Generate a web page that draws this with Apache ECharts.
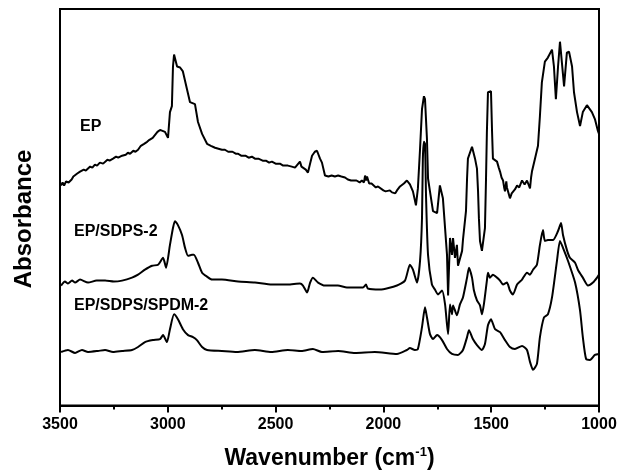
<!DOCTYPE html>
<html>
<head>
<meta charset="utf-8">
<script src="https://cdn.jsdelivr.net/npm/echarts@6/dist/echarts.min.js"></script>
<style>
  html, body { margin: 0; padding: 0; background: #fff; }
  #chart { width: 630px; height: 475px; }
</style>
</head>
<body>
<div id="chart"></div>
<script>
// FTIR spectra: wavenumber (cm-1) and absorbance (stacked, arbitrary units)
const xTicks = [3500, 3000, 2500, 2000, 1500, 1000];
const seriesNames = ['EP', 'EP/SDPS-2', 'EP/SDPS/SPDM-2'];

// EP (noisy trace), written region by region
const epWn = [
  3495, 3488, 3481, 3472, 3460, 3446, 3438, 3430, 3420, 3407, 3398, 3390, 3380, 3370, 3360, 3350, 3338, 3328, 3315, 3300,
  3291, 3280, 3270, 3254, 3240, 3230, 3212, 3195, 3185, 3175, 3160, 3150, 3138, 3125, 3110, 3096, 3085, 3070, 3059, 3048,
  3036, 3013, 2999, 2990, 2981, 2976, 2971, 2967, 2957, 2943, 2930, 2911, 2897, 2874, 2860, 2841, 2818, 2800, 2781,
  2765, 2749, 2735, 2720, 2700, 2685, 2674, 2660, 2640, 2625, 2610, 2596, 2580, 2560, 2545, 2530, 2517, 2500, 2480, 2465,
  2443, 2425, 2410, 2401, 2387, 2380, 2373, 2360, 2350, 2340, 2331, 2318, 2308, 2294, 2285, 2271, 2255, 2240, 2225, 2210,
  2195, 2178, 2165, 2150, 2141, 2125, 2110, 2100, 2090, 2085, 2080, 2076, 2066, 2055, 2048, 2035, 2025, 2016, 2000, 1990,
  1983, 1970, 1960, 1956, 1945, 1937, 1923, 1905, 1891, 1877, 1863, 1849, 1840, 1830, 1821, 1812, 1807, 1798, 1793,
  1784, 1770, 1751, 1738, 1724, 1714, 1705, 1700, 1691, 1682, 1677, 1668, 1659, 1654, 1635, 1631, 1617, 1612, 1608,
  1589, 1575, 1566, 1561, 1557, 1552, 1543, 1534, 1529, 1524, 1520, 1515, 1501, 1496, 1492, 1485, 1473, 1465, 1459,
  1452, 1445, 1440, 1436, 1430, 1427, 1420, 1413, 1405, 1399, 1390, 1380, 1370, 1357, 1345, 1334, 1325, 1320, 1315,
  1311, 1297, 1283, 1274, 1265, 1251, 1237, 1218, 1209, 1200, 1190, 1181, 1172, 1162, 1149, 1139, 1125, 1116, 1102,
  1088, 1075, 1056, 1033, 1019, 1005, 1000
];
const epAbs = [
  2.22, 2.25, 2.22, 2.26, 2.25, 2.28, 2.31, 2.30, 2.34, 2.36, 2.35, 2.38, 2.37, 2.39, 2.41, 2.40, 2.43, 2.42, 2.45, 2.44,
  2.46, 2.48, 2.47, 2.49, 2.51, 2.50, 2.52, 2.53, 2.55, 2.54, 2.57, 2.56, 2.58, 2.62, 2.64, 2.66, 2.68, 2.70, 2.73, 2.76,
  2.78, 2.76, 2.70, 2.96, 3.02, 3.42, 3.54, 3.54, 3.42, 3.41, 3.37, 3.19, 3.06, 3.04, 2.86, 2.74, 2.64, 2.62, 2.60,
  2.59, 2.58, 2.58, 2.56, 2.56, 2.54, 2.54, 2.52, 2.52, 2.50, 2.51, 2.49, 2.49, 2.47, 2.47, 2.45, 2.46, 2.44, 2.44, 2.42,
  2.42, 2.41, 2.40, 2.41, 2.46, 2.41, 2.40, 2.38, 2.35, 2.44, 2.52, 2.56, 2.57, 2.49, 2.45, 2.32, 2.31, 2.32, 2.31, 2.32,
  2.31, 2.30, 2.28, 2.27, 2.26, 2.27, 2.25, 2.27, 2.25, 2.32, 2.27, 2.31, 2.24, 2.24, 2.22, 2.20, 2.21, 2.19, 2.17, 2.16,
  2.14, 2.17, 2.15, 2.16, 2.14, 2.17, 2.21, 2.24, 2.27, 2.23, 2.16, 2.02, 2.19, 2.59, 2.99, 3.12, 3.09, 2.69, 2.29,
  2.16, 1.96, 1.94, 2.22, 2.09, 1.79, 1.52, 1.11, 1.69, 1.52, 1.69, 1.49, 1.62, 1.41, 1.56, 1.67, 1.96, 2.29, 2.49,
  2.61, 2.49, 2.39, 2.16, 1.89, 1.66, 1.56, 1.57, 1.79, 2.29, 2.76, 3.16, 3.17, 2.76, 2.49, 2.48, 2.46, 2.40, 2.36,
  2.30, 2.27, 2.20, 2.16, 2.26, 2.20, 2.18, 2.09, 2.14, 2.12, 2.18, 2.22, 2.20, 2.27, 2.23, 2.27, 2.25, 2.19, 2.30,
  2.36, 2.49, 2.62, 2.92, 3.26, 3.47, 3.51, 3.59, 3.42, 3.09, 3.42, 3.67, 3.67, 3.22, 3.56, 3.57, 3.42, 3.16, 2.96,
  2.82, 2.96, 3.03, 2.96, 2.89, 2.77, 2.74
];

const sdpsWn = [3495, 3477, 3463, 3444, 3430, 3407, 3370, 3330, 3291, 3250, 3212, 3166, 3138, 3106, 3073, 3045, 3022, 3008, 2990, 2976, 2967, 2953, 2934, 2920, 2906, 2888, 2879, 2860, 2841, 2818, 2795, 2749, 2674, 2596, 2517, 2443, 2387, 2373, 2354, 2340, 2327, 2303, 2271, 2211, 2169, 2095, 2081, 2072, 2016, 1937, 1900, 1877, 1863, 1844, 1830, 1821, 1817, 1812, 1807, 1802, 1793, 1775, 1761, 1747, 1728, 1714, 1700, 1691, 1682, 1677, 1659, 1645, 1631, 1612, 1603, 1589, 1580, 1566, 1552, 1543, 1534, 1520, 1515, 1506, 1492, 1473, 1459, 1445, 1427, 1413, 1399, 1380, 1357, 1334, 1320, 1306, 1288, 1274, 1260, 1251, 1237, 1213, 1190, 1176, 1167, 1149, 1135, 1111, 1098, 1075, 1051, 1028, 1009, 1000];
const sdpsAbs = [1.21, 1.25, 1.23, 1.26, 1.24, 1.27, 1.24, 1.26, 1.26, 1.25, 1.26, 1.29, 1.32, 1.37, 1.41, 1.42, 1.49, 1.39, 1.62, 1.79, 1.86, 1.82, 1.72, 1.59, 1.51, 1.52, 1.52, 1.44, 1.34, 1.30, 1.27, 1.27, 1.25, 1.24, 1.22, 1.22, 1.23, 1.21, 1.14, 1.24, 1.29, 1.24, 1.21, 1.21, 1.19, 1.19, 1.22, 1.18, 1.17, 1.21, 1.26, 1.42, 1.37, 1.24, 1.46, 1.89, 2.49, 2.66, 2.64, 2.09, 1.52, 1.22, 1.17, 1.12, 1.16, 1.02, 0.72, 1.02, 0.92, 1.01, 0.91, 1.02, 1.09, 1.29, 1.39, 1.29, 1.16, 1.06, 1.01, 0.92, 1.02, 1.26, 1.34, 1.29, 1.32, 1.29, 1.26, 1.22, 1.24, 1.16, 1.12, 1.22, 1.27, 1.34, 1.32, 1.37, 1.42, 1.62, 1.77, 1.66, 1.67, 1.67, 1.76, 1.84, 1.72, 1.57, 1.49, 1.44, 1.37, 1.29, 1.21, 1.24, 1.29, 1.32];

const spdmWn = [3495, 3463, 3430, 3398, 3370, 3324, 3291, 3254, 3212, 3166, 3138, 3106, 3069, 3036, 3022, 3004, 2990, 2971, 2953, 2930, 2906, 2883, 2865, 2841, 2818, 2749, 2680, 2596, 2520, 2443, 2380, 2327, 2285, 2210, 2132, 2040, 1937, 1891, 1877, 1854, 1840, 1821, 1807, 1798, 1784, 1770, 1751, 1728, 1705, 1682, 1654, 1631, 1612, 1603, 1585, 1566, 1543, 1529, 1515, 1501, 1482, 1459, 1436, 1413, 1390, 1357, 1334, 1320, 1306, 1288, 1274, 1255, 1237, 1218, 1195, 1181, 1167, 1144, 1111, 1088, 1075, 1060, 1042, 1019, 1000];
const spdmAbs = [0.54, 0.56, 0.53, 0.56, 0.54, 0.55, 0.56, 0.54, 0.55, 0.56, 0.59, 0.64, 0.66, 0.67, 0.71, 0.64, 0.77, 0.92, 0.87, 0.77, 0.71, 0.69, 0.66, 0.59, 0.56, 0.55, 0.54, 0.56, 0.54, 0.56, 0.55, 0.57, 0.54, 0.55, 0.53, 0.54, 0.52, 0.56, 0.58, 0.56, 0.57, 0.79, 0.99, 0.89, 0.72, 0.67, 0.71, 0.66, 0.57, 0.52, 0.51, 0.56, 0.69, 0.76, 0.67, 0.61, 0.56, 0.62, 0.81, 0.87, 0.77, 0.74, 0.66, 0.59, 0.57, 0.60, 0.56, 0.44, 0.36, 0.42, 0.69, 0.89, 0.92, 1.09, 1.46, 1.66, 1.59, 1.46, 1.24, 0.96, 0.69, 0.47, 0.46, 0.51, 0.52];

const pairs = (xs, ys) => xs.map((x, i) => [x, ys[i]]);
const spectra = [pairs(epWn, epAbs), pairs(sdpsWn, sdpsAbs), pairs(spdmWn, spdmAbs)];

const FONT = 'Liberation Sans, Arial, Helvetica, sans-serif';
const chart = echarts.init(document.getElementById('chart'), null, { renderer: 'canvas' });

chart.setOption({
  animation: false,
  backgroundColor: '#fff',
  grid: {
    left: 60, right: 31, top: 9, bottom: 66,
    show: true, borderColor: '#000', borderWidth: 2, backgroundColor: 'transparent'
  },
  xAxis: {
    type: 'value',
    inverse: true,
    min: xTicks[xTicks.length - 1],
    max: xTicks[0],
    interval: 500,
    axisLine: { show: true, lineStyle: { color: '#000', width: 2 } },
    axisTick: { show: true, inside: false, length: 7, lineStyle: { color: '#000', width: 2 } },
    minorTick: { show: true, splitNumber: 2, length: 4, lineStyle: { color: '#000', width: 2 } },
    splitLine: { show: false },
    axisLabel: {
      color: '#000', fontFamily: FONT, fontWeight: 'bold', fontSize: 16, margin: 11,
      formatter: v => String(v)
    },
    name: '{a|Wavenumber (cm}{s|-1}{a|)}',
    nameLocation: 'middle',
    nameGap: 40,
    nameTextStyle: {
      rich: {
        a: { fontFamily: FONT, fontWeight: 'bold', fontSize: 23, color: '#000', lineHeight: 26 },
        s: { fontFamily: FONT, fontWeight: 'bold', fontSize: 13, color: '#000', lineHeight: 14, verticalAlign: 'top' }
      }
    }
  },
  yAxis: {
    type: 'value',
    min: 0,
    max: 4,
    axisLine: { show: true, lineStyle: { color: '#000', width: 2 } },
    axisTick: { show: false },
    axisLabel: { show: false },
    splitLine: { show: false }
  },
  graphic: [
    {
      type: 'text', x: 24, y: 219, rotation: Math.PI / 2,
      style: { text: 'Absorbance', font: 'bold 24px ' + FONT, fill: '#000', align: 'center', verticalAlign: 'middle' }
    },
    {
      type: 'text', x: 80, y: 127,
      style: { text: seriesNames[0], font: 'bold 16px ' + FONT, fill: '#000', align: 'left', verticalAlign: 'middle' }
    },
    {
      type: 'text', x: 74, y: 232,
      style: { text: seriesNames[1], font: 'bold 16px ' + FONT, fill: '#000', align: 'left', verticalAlign: 'middle' }
    },
    {
      type: 'text', x: 74, y: 306,
      style: { text: seriesNames[2], font: 'bold 16px ' + FONT, fill: '#000', align: 'left', verticalAlign: 'middle' }
    }
  ],
  series: spectra.map((d, i) => ({
    name: seriesNames[i],
    type: 'line',
    data: d,
    showSymbol: false,
    smooth: i === 0 ? false : 0.2,
    lineStyle: { color: '#000', width: 2 },
    clip: true
  }))
});
</script>
</body>
</html>
